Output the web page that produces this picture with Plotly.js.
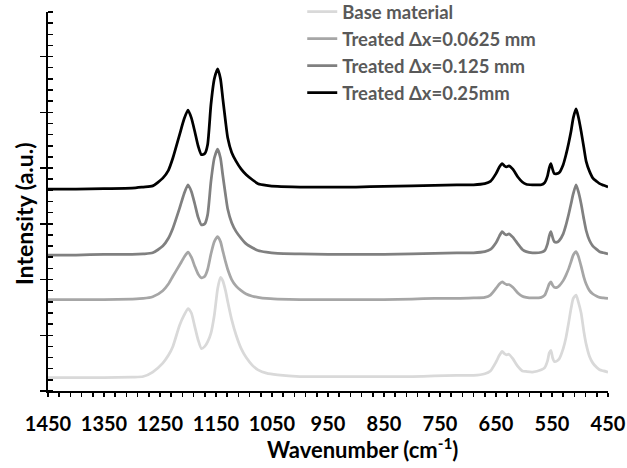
<!DOCTYPE html>
<html>
<head>
<meta charset="utf-8">
<script src="https://cdn.plot.ly/plotly-3.0.1.min.js"></script>
<style>html,body{margin:0;padding:0;background:#fff}#chart{width:627px;height:468px}</style>
</head>
<body>
<div id="chart"></div>
<script>
// Wavenumber sampling points (cm^-1)
const wavenumber = [1450,1400,1350,1300,1280,1263,1245,1235,1227,1215,1207,1200,1194,1188,1182,1176,1170,1165,1159,1153,1147,1142,1138,1133,1129,1122,1114,1105,1096,1085,1075,1060,1040,1000,950,900,850,800,760,720,690,670,660,650,644,639,635,631,627,620,611,603,596,585,569,563,558,555,552,549,546,541,537,530,525,520,516,512,507,503,498,493,489,483,477,470,465,458,450];

const seriesNames = ["Base material", "Treated Δx=0.0625 mm", "Treated Δx=0.125 mm", "Treated Δx=0.25mm"];

const baseMaterial = [0.12,0.12,0.12,0.125,0.13,0.17,0.25,0.32,0.40,0.59,0.68,0.74,0.70,0.58,0.46,0.38,0.40,0.44,0.52,0.68,0.92,1.02,0.99,0.90,0.80,0.64,0.50,0.38,0.30,0.23,0.19,0.16,0.145,0.13,0.13,0.13,0.13,0.13,0.135,0.14,0.14,0.155,0.18,0.26,0.32,0.355,0.335,0.325,0.33,0.29,0.22,0.18,0.175,0.17,0.19,0.21,0.27,0.34,0.365,0.30,0.265,0.27,0.29,0.38,0.48,0.62,0.74,0.83,0.86,0.80,0.70,0.53,0.42,0.31,0.25,0.21,0.19,0.18,0.17];

const treated00625 = [0.82,0.82,0.82,0.825,0.83,0.845,0.90,0.96,1.03,1.13,1.20,1.245,1.20,1.12,1.05,1.015,1.03,1.09,1.23,1.34,1.385,1.34,1.26,1.16,1.09,1.00,0.94,0.90,0.87,0.85,0.84,0.83,0.825,0.82,0.82,0.82,0.82,0.825,0.83,0.83,0.835,0.84,0.86,0.92,0.96,0.98,0.965,0.955,0.955,0.93,0.88,0.85,0.84,0.835,0.84,0.86,0.92,0.96,0.98,0.95,0.93,0.93,0.945,0.99,1.04,1.10,1.16,1.22,1.25,1.21,1.12,1.02,0.96,0.90,0.87,0.85,0.84,0.835,0.83];

const treated0125 = [1.22,1.22,1.225,1.225,1.23,1.24,1.30,1.37,1.46,1.64,1.77,1.85,1.79,1.68,1.56,1.49,1.50,1.58,1.88,2.09,2.17,2.09,1.94,1.76,1.63,1.51,1.43,1.37,1.32,1.285,1.26,1.245,1.235,1.23,1.225,1.225,1.225,1.23,1.235,1.24,1.24,1.25,1.27,1.33,1.39,1.43,1.41,1.40,1.41,1.38,1.32,1.27,1.25,1.24,1.245,1.26,1.32,1.39,1.43,1.38,1.34,1.335,1.35,1.41,1.49,1.59,1.68,1.77,1.85,1.79,1.68,1.54,1.44,1.35,1.30,1.27,1.25,1.24,1.23];

const treated025 = [1.81,1.81,1.815,1.82,1.83,1.84,1.91,1.98,2.09,2.30,2.44,2.52,2.45,2.33,2.20,2.12,2.13,2.21,2.57,2.80,2.89,2.80,2.63,2.42,2.27,2.14,2.06,1.99,1.94,1.895,1.86,1.845,1.835,1.83,1.83,1.83,1.835,1.84,1.845,1.85,1.85,1.86,1.88,1.95,2.01,2.04,2.02,2.01,2.02,1.99,1.92,1.875,1.855,1.85,1.85,1.87,1.93,2.00,2.04,1.99,1.95,1.95,1.96,2.03,2.12,2.23,2.33,2.45,2.53,2.46,2.33,2.18,2.06,1.97,1.91,1.88,1.86,1.845,1.83];

const xTickValues = [1450,1350,1250,1150,1050,950,850,750,650,550,450];
const xTitle = "Wavenumber (cm<sup>-1</sup>)";
const yTitle = "Intensity (a.u.)";

const allSeries = [baseMaterial, treated00625, treated0125, treated025];
const colors = ["#d9d9d9", "#a6a6a6", "#808080", "#000000"];

const traces = allSeries.map((ys, i) => ({
  type: "scatter",
  mode: "lines",
  x: wavenumber,
  y: ys,
  name: seriesNames[i],
  legendgroup: "g" + i,
  line: {color: colors[i], width: 2.75, shape: "spline", smoothing: 0.6},
  hoverinfo: "skip"
}));

const FONT = "Lato, 'Open Sans', sans-serif";

const layout = {
  width: 627,
  height: 468,
  margin: {l: 48, r: 19, t: 12, b: 77, autoexpand: false},
  paper_bgcolor: "#ffffff",
  plot_bgcolor: "#ffffff",
  showlegend: true,
  legend: {
    x: 0.454, xanchor: "left",
    y: 1.05, yanchor: "top",
    bgcolor: "rgba(0,0,0,0)",
    font: {family: FONT, size: 18.5, color: "#595959", weight: "bold"},
    tracegroupgap: 0,
    traceorder: "normal"
  },
  annotations: [{
    text: xTitle, xref: "paper", yref: "paper",
    x: 0.5616, y: -0.151, xanchor: "center", yanchor: "middle",
    showarrow: false,
    font: {family: FONT, size: 22, color: "#000", weight: "bold"}
  }, {
    text: yTitle, xref: "paper", yref: "paper",
    x: -0.0429, y: 0.4695, xanchor: "center", yanchor: "middle",
    textangle: -90, showarrow: false,
    font: {family: FONT, size: 23, color: "#000", weight: "bold"}
  }],
  xaxis: {
    range: [1450, 450],
    tickmode: "array",
    tickvals: xTickValues,
    ticktext: xTickValues.map(String),
    ticks: "outside", ticklen: 4, tickwidth: 1.5, tickcolor: "#000",
    minor: {dtick: 20, tick0: 50, ticks: "outside", ticklen: 4, tickwidth: 1.5, tickcolor: "#000", showgrid: false},
    showline: true, linecolor: "#000", linewidth: 2,
    showgrid: false, zeroline: false,
    tickfont: {family: FONT, size: 20, color: "#000", weight: "bold"},
    ticklabelstandoff: 10,
    automargin: false
  },
  yaxis: {
    range: [0, 3.4],
    dtick: 0.5, tick0: 0,
    ticks: "outside", ticklen: 6, tickwidth: 1.5, tickcolor: "#000",
    minor: {dtick: 0.1, tick0: 0, ticks: "inside", ticklen: 5, tickwidth: 1.5, tickcolor: "#000", showgrid: false},
    showticklabels: false,
    showline: true, linecolor: "#000", linewidth: 2,
    showgrid: false, zeroline: false,
    automargin: false
  },
  xaxis2: {
    overlaying: "x", anchor: "y",
    range: [1450, 450],
    tickmode: "array", tickvals: xTickValues,
    ticks: "inside", ticklen: 8, tickwidth: 1.5, tickcolor: "#000",
    showticklabels: false, showline: false, showgrid: false, zeroline: false
  },
  yaxis2: {
    overlaying: "y", anchor: "x",
    range: [0, 3.4], dtick: 0.5, tick0: 0,
    ticks: "inside", ticklen: 5, tickwidth: 1.5, tickcolor: "#000",
    showticklabels: false, showline: false, showgrid: false, zeroline: false
  }
};

Plotly.newPlot("chart", traces, layout, {staticPlot: true, displayModeBar: false});
</script>
</body>
</html>
